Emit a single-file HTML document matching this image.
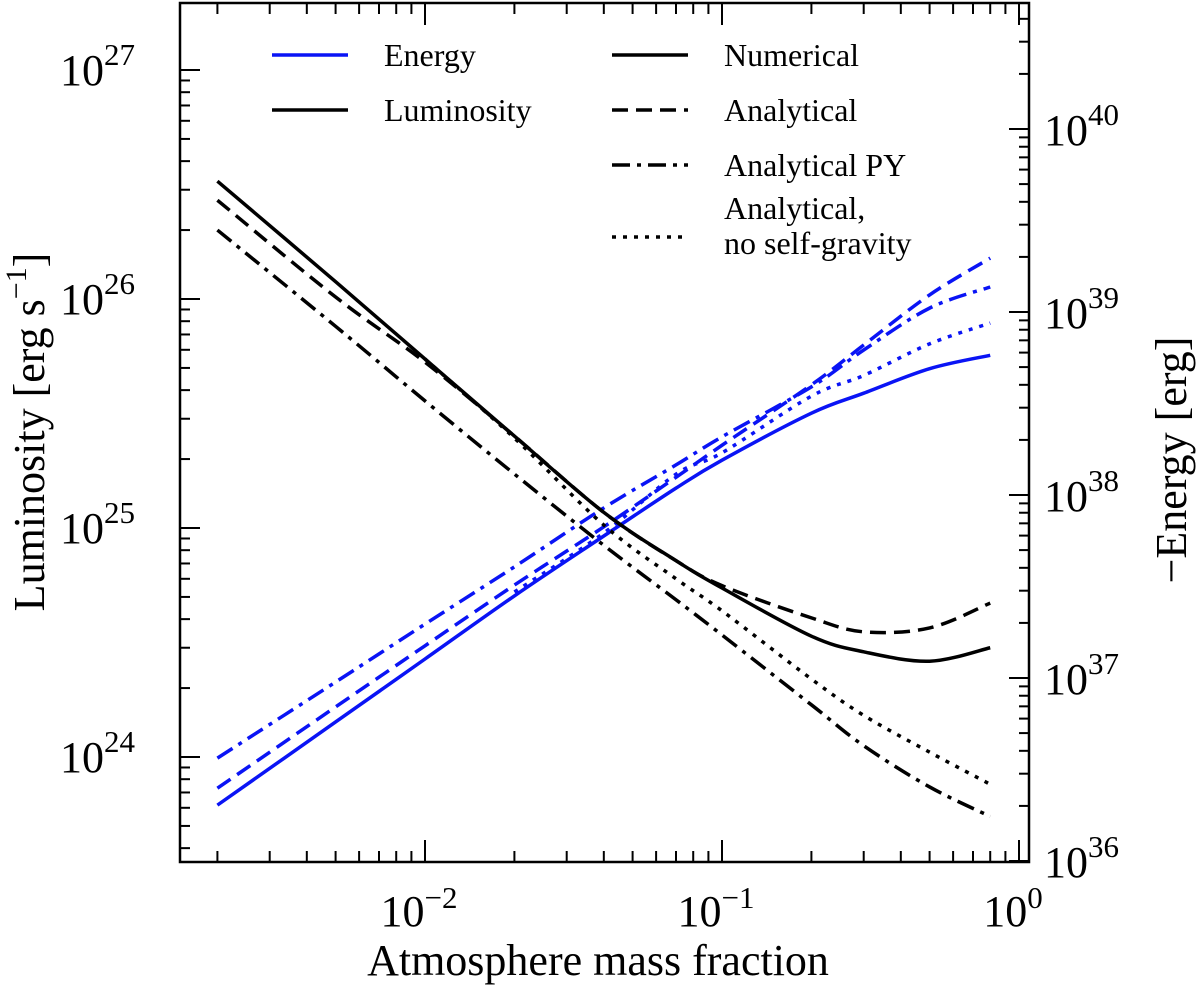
<!DOCTYPE html>
<html><head><meta charset="utf-8"><style>
body{margin:0;background:#fff}
svg{display:block;font-family:"Liberation Serif",serif}
</style></head><body>
<svg id="chart" width="1200" height="988" viewBox="0 0 1200 988" xmlns="http://www.w3.org/2000/svg">
<g id="axes"></g><g id="series"></g><g id="legend"></g>
</svg>
<script>
const fractions=[0.002,0.005,0.01,0.02,0.04,0.07,0.1,0.2,0.3,0.5,0.8];
const lumNumerical=[3.27e26,1.19e26,5.47e25,2.52e25,1.17e25,7.2e24,5.47e24,3.37e24,2.88e24,2.62e24,3.0e24];
const lumAnalytical=[2.7e26,1.02e26,5.3e25,2.52e25,1.17e25,7.2e24,5.6e24,4.05e24,3.52e24,3.66e24,4.7e24];
const lumPY=[2.0e26,7.6e25,3.59e25,1.72e25,8.4e24,4.86e24,3.41e24,1.69e24,1.12e24,7.4e23,5.5e23];
const lumNoSG=[null,null,5.47e25,2.47e25,1.03e25,6.0e24,4.35e24,2.19e24,1.52e24,1.05e24,7.6e23];
const enNumerical=[2.02e36,5.75e36,1.27e37,2.81e37,5.97e37,1.09e38,1.55e38,2.8e38,3.6e38,4.9e38,5.8e38];
const enAnalytical=[2.5e36,6.95e36,1.5e37,3.22e37,6.7e37,1.25e38,1.87e38,4.0e38,6.6e38,1.24e39,1.97e39];
const enPY=[3.65e36,9.5e36,1.97e37,4.05e37,8.5e37,1.46e38,2.08e38,3.9e38,6.2e38,1.05e39,1.37e39];
const enNoSG=[null,null,null,2.95e37,6.2e37,1.3e38,1.7e38,3.47e38,4.5e38,6.7e38,8.7e38];
const xTickExps=[-2,-1,0];
const leftTickExps=[24,25,26,27];
const rightTickExps=[36,37,38,39,40];

const NS="http://www.w3.org/2000/svg";
const L=180,R=1029,T=3,B=862;
function xs(v){return 1019+297*Math.log10(v);}
function yl(v){return 757-229*(Math.log10(v)-24);}
function yr(v){return 861-183*(Math.log10(v)-36);}
function mk(tag,attrs,parent){const e=document.createElementNS(NS,tag);for(const k in attrs)e.setAttribute(k,attrs[k]);parent.appendChild(e);return e;}
const axes=document.getElementById('axes'),series=document.getElementById('series'),legend=document.getElementById('legend');

const frame=mk('rect',{x:L,y:T,width:R-L,height:B-T,fill:'none',stroke:'#000','stroke-width':2.5},axes);



for(let e=-3;e<=0;e++){for(let m=1;m<10;m++){const v=m*Math.pow(10,e);const x=xs(v);if(x<L||x>R)continue;const len=m===1?22:11;
mk('line',{x1:x,y1:B,x2:x,y2:B-len,stroke:'#000','stroke-width':2},axes);
mk('line',{x1:x,y1:T,x2:x,y2:T+len,stroke:'#000','stroke-width':2},axes);}}
xTickExps.forEach(e=>{const t=mk('text',{x:xs(Math.pow(10,e))-6,y:926,'text-anchor':'middle','font-size':44},axes);


t.innerHTML='10<tspan dy="-18" font-size="31">'+(e<0?'\u2212'+(-e):e)+'</tspan>';});
for(let e=23;e<=27;e++){for(let m=1;m<10;m++){const v=m*Math.pow(10,e);const y=yl(v);if(y<T||y>B)continue;
mk('line',{x1:L,y1:y,x2:L+(m===1?20:10),y2:y,stroke:'#000','stroke-width':2},axes);}}
leftTickExps.forEach(e=>{const t=mk('text',{x:60,y:yl(Math.pow(10,e))+15,'font-size':44},axes);


t.innerHTML='10<tspan dy="-20" font-size="31">'+e+'</tspan>';});
for(let e=35;e<=40;e++){for(let m=1;m<10;m++){const v=m*Math.pow(10,e);const y=yr(v);if(y<T||y>B)continue;
mk('line',{x1:R,y1:y,x2:R-(m===1?20:10),y2:y,stroke:'#000','stroke-width':2},axes);}}
rightTickExps.forEach(e=>{const t=mk('text',{x:1044,y:yr(Math.pow(10,e))+16,'font-size':44},axes);


t.innerHTML='10<tspan dy="-20" font-size="31">'+e+'</tspan>';});
const xt=mk('text',{x:598,y:975,'text-anchor':'middle','font-size':44},axes);xt.textContent='Atmosphere mass  fraction';


const ylt=mk('text',{x:0,y:0,'text-anchor':'middle','font-size':44,transform:'translate(44,432) rotate(-90)'},axes);
ylt.innerHTML='Luminosity [erg s<tspan dy="-18" font-size="30">\u22121</tspan><tspan dy="18">]</tspan>';


const yrt=mk('text',{x:0,y:0,'text-anchor':'middle','font-size':44,transform:'translate(1186,460) rotate(-90)'},axes);
yrt.textContent='\u2212Energy [erg]';



const styles={solid:'',dash:'16,8',dashdot:'18,7,4,7',dot:'4,7'};
function draw(vals,yf,color,dash,name){let pts=[];fractions.forEach((f,i)=>{if(vals[i]!=null)pts.push([xs(f),yf(vals[i])]);});
let d='M'+pts[0][0]+','+pts[0][1];
for(let i=0;i<pts.length-1;i++){const p0=pts[i-1]||pts[i],p1=pts[i],p2=pts[i+1],p3=pts[i+2]||p2;
d+=' C'+(p1[0]+(p2[0]-p0[0])/6)+','+(p1[1]+(p2[1]-p0[1])/6)+' '+(p2[0]-(p3[0]-p1[0])/6)+','+(p2[1]-(p3[1]-p1[1])/6)+' '+p2[0]+','+p2[1];}
const p=mk('path',{d:d,fill:'none',stroke:color,'stroke-width':3.5,'stroke-dasharray':styles[dash]},series);

}
const BL='#0a14f5';
draw(enNumerical,yr,BL,'solid','energy-numerical-line');
draw(enAnalytical,yr,BL,'dash','energy-analytical-line');
draw(enPY,yr,BL,'dashdot','energy-analytical-py-line');
draw(enNoSG,yr,BL,'dot','energy-no-self-gravity-line');
draw(lumNumerical,yl,'#000','solid','luminosity-numerical-line');
draw(lumAnalytical,yl,'#000','dash','luminosity-analytical-line');
draw(lumPY,yl,'#000','dashdot','luminosity-analytical-py-line');
draw(lumNoSG,yl,'#000','dot','luminosity-no-self-gravity-line');

function entry(x1,y,color,dash,label,name,ty){const g=mk('g',{},legend);


mk('line',{x1:x1,y1:y,x2:x1+76,y2:y,stroke:color,'stroke-width':3.5,'stroke-dasharray':styles[dash]},g);
const lines=label.split('|');lines.forEach((s,i)=>{const t=mk('text',{x:x1+112,y:(ty||y)+11+i*35,'font-size':32},g);t.textContent=s;});}
entry(272,55,BL,'solid','Energy','legend-energy');
entry(272,110,'#000','solid','Luminosity','legend-luminosity');
entry(612,55,'#000','solid','Numerical','legend-numerical');
entry(612,110,'#000','dash','Analytical','legend-analytical');
entry(612,165,'#000','dashdot','Analytical PY','legend-analytical-py');
entry(612,237,'#000','dot','Analytical,|no self-gravity','legend-no-self-gravity',208);
</script>
</body></html>
